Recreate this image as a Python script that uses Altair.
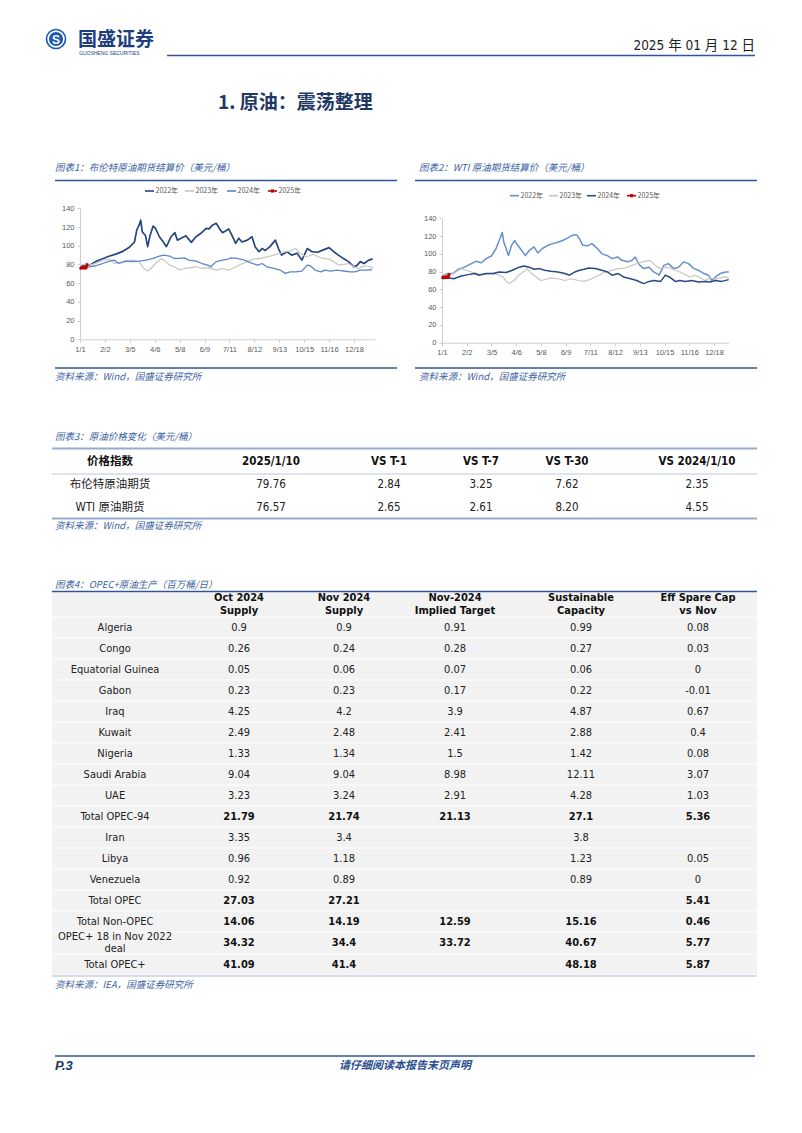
import altair as alt
import pandas as pd

W, H = 802, 1133
CJK = "Noto Sans CJK SC"
LAT = "Liberation Sans Narrow, DejaVu Sans Condensed, Liberation Sans, Noto Sans CJK SC"

# ---------------- data: chart 1 (Brent) ----------------
brent_2022_days = [2,8,12,20,29,38,46,55,63,70,73,76,78,80,84,87,90,94,97,102,107,111,117,122,125,130,136,143,149,155,162,166,170,175,179,183,187,191,196,200,204,208,215,221,225,230,234,238,244,251,255,259,266,272,279,285,292,298,305,311,320,326,332,339,345,352,356,360,365,371,376]
brent_2022_prices = [78,80,79,83,86,89,91,94,98,104,117,122,127.5,115,111,99,111,121,118.5,109.6,104,99,109.6,114,106,108,110.7,103.6,109.6,113,118.5,118,122,124,118.5,114,115.7,118,109.6,102.5,108,104,106,109.6,99,93.6,97,95,99,106,97,90,93.6,90,92,84.6,97,93.6,93,95,98,93.6,90,86,83,77.5,79,83,81,84.6,86]
brent_2023_days = [2,12,20,29,38,44,50,59,68,76,82,87,91,97,104,108,115,121,128,134,140,149,157,166,175,183,191,198,206,215,223,232,240,249,257,264,270,277,283,290,294,300,307,313,320,326,332,339,345,352,358,365,373,377]
brent_2023_prices = [80,79.3,81,84.6,85.7,81,82,83.6,84.6,83,75.7,73,75.7,81,86,84.6,79.3,77.5,74,75.7,76.4,77.5,75.7,76.4,74,75.7,74,76.4,80,83,85.7,86.4,88,90,92,93.6,94.3,97,92,88,89,90.7,88,86.4,85.7,83,79.3,80,81,77.5,75.7,78.6,77.5,75.7]
brent_2024_days = [2,12,20,29,38,44,50,59,68,76,85,94,102,108,115,121,128,134,140,149,157,164,168,175,183,190,194,202,211,219,228,234,240,249,257,264,270,277,285,292,296,302,309,315,322,330,339,347,353,360,369,375]
brent_2024_prices = [77,77.5,78.6,81,83.6,84.6,81,83.6,83,83.6,84.6,86.4,89,90,89,86.4,86.4,87,84.6,83.6,81,79.3,77.5,83,84.6,85.7,87,86.4,84.6,82,79.3,81,77.5,75.7,74,70.4,72,72,72.8,79.3,78.6,74,72,74,72.8,74,73,72,72,74,74,74.6]
brent_2025_days = [1,2,5,6,7,8,9]
brent_2025_prices = [75.93,76.51,76.30,77.05,76.16,76.92,79.76]

# ---------------- data: chart 2 (WTI) ----------------
wti_2022_days = [2,8,14,21,29,38,44,51,57,64,70,74,78,80,83,86,90,94,98,103,108,113,119,124,130,137,143,150,156,163,169,174,178,182,188,194,201,207,214,220,227,233,240,246,250,255,261,268,274,281,287,293,300,306,313,319,326,332,339,345,349,354,360,367,371]
wti_2022_prices = [76,78,77.8,82.6,85,89,91.6,90,94.6,97.6,106,115,124,113,106,98,109.6,115,109.6,104,98,104,107.8,101,106,109.6,111.5,113,115,118,121,121.6,117,109.6,109,111.5,106,100,98,94.6,96.5,92.7,91,92.7,96.5,88,83.4,85,79.6,76,87,89,83.4,85,91,89,83.4,81.5,77.8,76,70,74,77.8,79.6,79.6]
wti_2023_days = [2,8,15,25,31,38,47,55,64,72,79,83,87,93,98,105,110,116,122,128,135,141,150,159,167,176,184,194,203,211,220,228,237,246,255,263,269,276,282,289,295,302,308,315,321,328,334,341,347,354,360,367,371]
wti_2023_prices = [76,76,77.8,83.4,81.5,79.6,77.8,76.6,77.8,76.6,74,69,66.5,70,75,79.6,83.4,77.8,74,70,71.4,73,72,70,72,70,69,72,76,79.6,81.5,83.4,84,87,90,91.6,92.7,87,83.4,85,84,81.5,79.6,76.6,74,76,73,70,73,71.4,73,74,73]
wti_2024_days = [2,8,15,25,34,42,48,57,66,74,83,91,100,106,113,119,126,133,141,150,159,165,172,178,184,190,198,207,214,220,228,235,244,252,261,268,274,283,289,294,302,308,315,323,332,341,347,354,362,371]
wti_2024_prices = [72,73,72,75,76.6,77.8,76,77.8,77.8,79.6,79,81.5,85,86.4,85,82.6,83.4,81.5,80.4,79.6,77.8,76,79.6,81.5,82.6,84,83.4,81.5,79.6,76,77.8,74,72,70,66.5,69,70,69,76,74,69,70,69,70,68.4,69,68.4,70,69,71]
wti_2025_days = [1,2,5,6,7,8,9]
wti_2025_prices = [73.13,73.96,73.56,74.25,73.32,73.92,76.57]

series_labels = ["2022年", "2023年", "2024年", "2025年"]
y_ticks = [0, 20, 40, 60, 80, 100, 120, 140]
x_tick_days = [0, 32, 64, 96, 128, 160, 192, 224, 256, 288, 320, 352]

# ---------------- data: table 3 ----------------
t3_header = ["价格指数", "2025/1/10", "VS T-1", "VS T-7", "VS T-30", "VS 2024/1/10"]
t3_names = ["布伦特原油期货", "WTI 原油期货"]
t3_latest = ["79.76", "76.57"]
t3_t1 = ["2.84", "2.65"]
t3_t7 = ["3.25", "2.61"]
t3_t30 = ["7.62", "8.20"]
t3_yoy = ["2.35", "4.55"]

# ---------------- data: table 4 ----------------
t4_header = ["Oct 2024\nSupply", "Nov 2024\nSupply", "Nov-2024\nImplied Target", "Sustainable\nCapacity", "Eff Spare Cap\nvs Nov"]
t4_rows = ["Algeria", "Congo", "Equatorial Guinea", "Gabon", "Iraq", "Kuwait", "Nigeria", "Saudi Arabia", "UAE",
           "Total OPEC-94", "Iran", "Libya", "Venezuela", "Total OPEC", "Total Non-OPEC", "OPEC+ 18 in Nov 2022\ndeal", "Total OPEC+"]
t4_oct = ["0.9", "0.26", "0.05", "0.23", "4.25", "2.49", "1.33", "9.04", "3.23", "21.79", "3.35", "0.96", "0.92", "27.03", "14.06", "34.32", "41.09"]
t4_nov = ["0.9", "0.24", "0.06", "0.23", "4.2", "2.48", "1.34", "9.04", "3.24", "21.74", "3.4", "1.18", "0.89", "27.21", "14.19", "34.4", "41.4"]
t4_target = ["0.91", "0.28", "0.07", "0.17", "3.9", "2.41", "1.5", "8.98", "2.91", "21.13", "", "", "", "", "12.59", "33.72", ""]
t4_capacity = ["0.99", "0.27", "0.06", "0.22", "4.87", "2.88", "1.42", "12.11", "4.28", "27.1", "3.8", "1.23", "0.89", "", "15.16", "40.67", "48.18"]
t4_spare = ["0.08", "0.03", "0", "-0.01", "0.67", "0.4", "0.08", "3.07", "1.03", "5.36", "", "0.05", "0", "5.41", "0.46", "5.77", "5.87"]
t4_bold_rows = ["Total OPEC-94", "Total OPEC", "Total Non-OPEC", "OPEC+ 18 in Nov 2022\ndeal", "Total OPEC+"]


# ---------------- helpers (page coordinate layers) ----------------
def page_x(f="x"):
    return alt.X(f"{f}:Q", scale=alt.Scale(domain=[0, W], range=[0, W], nice=False, zero=False), axis=None)


def page_y(f="y"):
    return alt.Y(f"{f}:Q", scale=alt.Scale(domain=[0, H], range=[0, H], nice=False, zero=False), axis=None)


def texts(rows, **kw):
    df = pd.DataFrame(rows, columns=["x", "y", "t"])
    return alt.Chart(df).mark_text(**kw).encode(x=page_x(), y=page_y(), text="t:N")


def rules(rows, color, width):
    df = pd.DataFrame(rows, columns=["x", "y", "x2", "y2"])
    return alt.Chart(df).mark_rule(color=color, strokeWidth=width).encode(
        x=page_x(), y=page_y(), x2="x2:Q", y2="y2:Q")


def rects(rows, color):
    df = pd.DataFrame(rows, columns=["x", "y", "x2", "y2"])
    return alt.Chart(df).mark_rect(color=color).encode(x=page_x(), y=page_y(), x2="x2:Q", y2="y2:Q")


BLUE = "#2F5597"
TITLE_C = "#3D63A2"
layers = []

# ---------------- header ----------------
logo = pd.DataFrame({"x": [56], "y": [39]})
layers.append(alt.Chart(logo).mark_point(shape="circle", filled=True, size=430, color="#1E5BAA", opacity=1).encode(x=page_x(), y=page_y()))
layers.append(alt.Chart(logo).mark_point(shape="circle", filled=False, size=250, color="white", strokeWidth=1.6, opacity=1).encode(x=page_x(), y=page_y()))
layers.append(texts([(56, 39.5, "S")], font="Liberation Sans", fontSize=12, fontWeight="bold", color="white", align="center", baseline="middle"))
layers.append(texts([(78, 40, "国盛证券")], font=CJK, fontSize=19, fontWeight="bold", color="#1D3F7E", align="left", baseline="middle"))
layers.append(texts([(79, 53, "GUOSHENG SECURITIES")], font="Liberation Sans", fontSize=5, color="#1D3F7E", align="left", baseline="middle"))
layers.append(texts([(755, 46, "2025 年 01 月 12 日")], font=LAT, fontSize=13.5, color="#222222", align="right", baseline="middle"))
layers.append(rules([(167, 55.5, 755, 55.5)], BLUE, 1.6))
layers.append(texts([(218, 103, "1. 原油：震荡整理")], font=CJK, fontSize=19, fontWeight="bold", color="#1F3864", align="left", baseline="middle"))

# ---------------- chart frames ----------------
layers.append(texts([(55, 168, "图表1：布伦特原油期货结算价（美元/桶）"), (419, 168, "图表2：WTI 原油期货结算价（美元/桶）")],
                    font=CJK, fontSize=9.5, fontStyle="italic", color=TITLE_C, align="left", baseline="middle"))
layers.append(rules([(55, 180.5, 397, 180.5), (415, 180.5, 757, 180.5), (55, 368, 397, 368), (415, 368, 757, 368)], BLUE, 1.6))
layers.append(texts([(55, 377, "资料来源：Wind，国盛证券研究所"), (419, 377, "资料来源：Wind，国盛证券研究所")],
                    font=CJK, fontSize=9.5, fontStyle="italic", color=TITLE_C, align="left", baseline="middle"))


def price_chart(series, red_days, red_prices, xmax, xr, yr, legend_y, legend_x):
    rows = []
    for name, days, prices, color, width in series:
        for d, p in zip(days, prices):
            rows.append({"series": name, "day": d, "price": p, "c": color, "w": width})
    df = pd.DataFrame(rows)
    xs = alt.Scale(domain=[0, xmax], range=xr, nice=False, zero=False)
    ys = alt.Scale(domain=[0, 140], range=yr, nice=False, zero=False)
    common = dict(domainColor="#CFCFCF", tickColor="#CFCFCF", tickSize=3, labelFont="Liberation Sans",
                  labelFontSize=7.5, labelColor="#595959", grid=False, title=None, labelFlush=False, labelOverlap=False)
    xaxis = alt.Axis(orient="bottom", offset=yr[0] - H, values=x_tick_days, labelPadding=3,
                     labelExpr="timeFormat(datetime(2024, 0, 1 + datum.value), '%-m/%-d')", **common)
    yaxis = alt.Axis(orient="left", offset=-xr[0], values=y_ticks, labelPadding=3, **common)
    out = [alt.Chart(df).mark_line(strokeJoin="round").encode(
        x=alt.X("day:Q", scale=xs, axis=xaxis),
        y=alt.Y("price:Q", scale=ys, axis=yaxis),
        color=alt.Color("c:N", scale=None),
        strokeWidth=alt.StrokeWidth("w:Q", scale=None),
        detail="series:N", order="day:Q")]
    rdf = pd.DataFrame({"day": red_days, "price": red_prices})
    out.append(alt.Chart(rdf).mark_line(color="#C00000", strokeWidth=1.8,
                                        point=alt.OverlayMarkDef(shape="square", size=8, filled=True, color="#C00000")).encode(
        x=alt.X("day:Q", scale=xs, axis=None), y=alt.Y("price:Q", scale=ys, axis=None)))
    # legend
    lrows, trows = [], []
    colors = [s[3] for s in series] + ["#C00000"]
    for lx, lab, c in zip(legend_x, series_labels, colors):
        lrows.append({"x": lx, "x2": lx + 9, "y": legend_y, "y2": legend_y, "c": c})
        trows.append((lx + 10.5, legend_y, lab))
    ldf = pd.DataFrame(lrows)
    out.append(alt.Chart(ldf).mark_rule(strokeWidth=1.6).encode(x=page_x(), x2="x2:Q", y=page_y(), y2="y2:Q",
                                                                color=alt.Color("c:N", scale=None)))
    mdf = pd.DataFrame({"x": [legend_x[3] + 4.5], "y": [legend_y]})
    out.append(alt.Chart(mdf).mark_point(shape="square", size=10, filled=True, color="#C00000", opacity=1).encode(x=page_x(), y=page_y()))
    out.append(texts(trows, font=CJK, fontSize=7, color="#595959", align="left", baseline="middle"))
    return out


layers += price_chart(
    [("2022", brent_2022_days, brent_2022_prices, "#26467F", 1.7),
     ("2023", brent_2023_days, brent_2023_prices, "#C9C5C1", 1.2),
     ("2024", brent_2024_days, brent_2024_prices, "#5B87C7", 1.3)],
    brent_2025_days, brent_2025_prices, 379, [80, 375], [339.3, 208.3], 191, [145, 185, 227, 268])

layers += price_chart(
    [("2022", wti_2022_days, wti_2022_prices, "#6690CB", 1.5),
     ("2023", wti_2023_days, wti_2023_prices, "#C9C5C1", 1.2),
     ("2024", wti_2024_days, wti_2024_prices, "#2A4A80", 1.5)],
    wti_2025_days, wti_2025_prices, 371, [442, 728.7], [342.7, 218.3], 195.7, [510, 549, 587, 627])

# ---------------- table 3 ----------------
t3_x = [110, 271, 389, 481, 567, 697]
layers.append(texts([(55, 437, "图表3：原油价格变化（美元/桶）")], font=CJK, fontSize=9.5, fontStyle="italic", color=TITLE_C, align="left", baseline="middle"))
layers.append(rules([(52, 448.5, 757, 448.5), (52, 518.5, 757, 518.5)], "#95ACD0", 2.2))
layers.append(rules([(52, 474, 757, 474)], "#B8C8E2", 1))
layers.append(texts([(x, 461.5, h) for x, h in zip(t3_x, t3_header)], font=LAT, fontSize=11.5, fontWeight="bold", color="#111111", align="center", baseline="middle"))
t3_cells = []
for i, name in enumerate(t3_names):
    yy = 485 + 23 * i
    vals = [t3_latest[i], t3_t1[i], t3_t7[i], t3_t30[i], t3_yoy[i]]
    t3_cells.append((t3_x[0], yy, name))
    for x, v in zip(t3_x[1:], vals):
        t3_cells.append((x, yy, v))
layers.append(texts(t3_cells, font=LAT, fontSize=11.5, color="#222222", align="center", baseline="middle"))
layers.append(texts([(55, 526, "资料来源：Wind，国盛证券研究所")], font=CJK, fontSize=9.5, fontStyle="italic", color=TITLE_C, align="left", baseline="middle"))

# ---------------- table 4 ----------------
t4_x = [115, 239, 344, 455, 581, 698]
row_tops, row_heights = [], []
top = 617
for name in t4_rows:
    h = 22 if "\n" in name else 21
    row_tops.append(top)
    row_heights.append(h)
    top += h
bg = [(52, 592.5, 757, 616.5)]
for t, h in zip(row_tops, row_heights):
    bg.append((52, t + 0.6, 757, t + h - 0.6))
layers.append(rects(bg, "#F2F2F2"))
layers.append(texts([(55, 585, "图表4：OPEC+原油生产（百万桶/日）")], font=CJK, fontSize=9.5, fontStyle="italic", color=TITLE_C, align="left", baseline="middle"))
layers.append(rules([(52, 591.5, 757, 591.5)], BLUE, 1.5))
layers.append(rules([(52, top + 1, 757, top + 1)], "#A9BAD6", 1.2))
layers.append(texts([(x, 598, h) for x, h in zip(t4_x[1:], t4_header)], font=LAT, fontSize=11, fontWeight="bold",
                    color="#111111", align="center", baseline="middle", lineBreak="\n", lineHeight=12.5))
normal, bold = [], []
for i, name in enumerate(t4_rows):
    yc = row_tops[i] + row_heights[i] / 2
    ny = yc - 6 if "\n" in name else yc
    normal.append((t4_x[0], ny, name))
    vals = [t4_oct[i], t4_nov[i], t4_target[i], t4_capacity[i], t4_spare[i]]
    target = bold if name in t4_bold_rows else normal
    for x, v in zip(t4_x[1:], vals):
        if v != "":
            target.append((x, yc, v))
layers.append(texts(normal, font=LAT, fontSize=11, color="#222222", align="center", baseline="middle", lineBreak="\n", lineHeight=12))
layers.append(texts(bold, font=LAT, fontSize=11, fontWeight="bold", color="#111111", align="center", baseline="middle"))
layers.append(texts([(55, top + 10, "资料来源：IEA，国盛证券研究所")], font=CJK, fontSize=9.5, fontStyle="italic", color=TITLE_C, align="left", baseline="middle"))

# ---------------- footer ----------------
layers.append(rules([(55, 1056, 755, 1056)], BLUE, 1.6))
layers.append(texts([(55, 1066, "P.3")], font="Liberation Sans", fontSize=13, fontWeight="bold", fontStyle="italic", color="#1F3864", align="left", baseline="middle"))
layers.append(texts([(405, 1066, "请仔细阅读本报告末页声明")], font=CJK, fontSize=11, fontWeight="bold", fontStyle="italic", color="#2B4F8C", align="center", baseline="middle"))

chart = alt.layer(*layers).resolve_scale(x="independent", y="independent").properties(
    width=W, height=H, padding=0, background="white",
    autosize=alt.AutoSizeParams(type="none")
).configure_view(strokeWidth=0)

chart.save("out.html", embed_options={"renderer": "svg", "actions": False})
